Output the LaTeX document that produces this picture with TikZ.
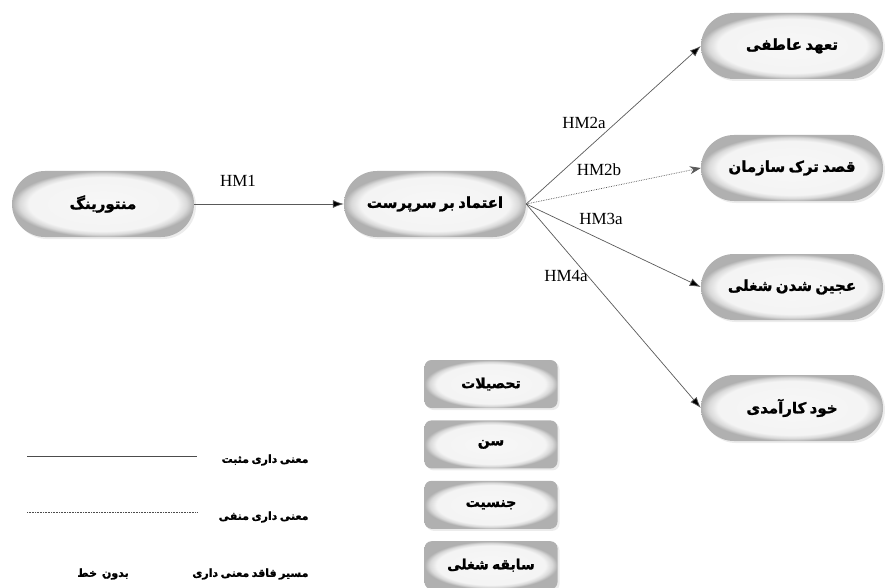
\documentclass[tikz,border=0pt]{standalone}
\usepackage{fontspec}
\setmainfont{Liberation Serif}
\newfontfamily\farsi[Script=Arabic, WordSpace=0.65,
  BoldFeatures={FakeBold=1.5}]{DejaVu Sans}
\TeXXeTstate=1
\usetikzlibrary{arrows.meta,positioning,shadows}
\pgfdeclareradialshading{rimshade}{\pgfpoint{0bp}{0bp}}{%
  color(0bp)=(gray!6); color(20.5bp)=(gray!9); color(23bp)=(gray!30);
  color(25bp)=(gray!62); color(50bp)=(gray!62)}
\newcommand{\rtl}[1]{\beginR #1\endR}

\tikzset{
  pill/.style={rectangle, rounded corners=33pt, minimum width=182pt,
    minimum height=66pt, shading=rimshade,
    drop shadow={opacity=0.15, shadow xshift=2pt, shadow yshift=-2pt},
    font=\farsi\bfseries\fontsize{15}{18}\selectfont},
  ctrlbox/.style={rectangle, rounded corners=7pt, minimum width=133pt,
    minimum height=48pt, shading=rimshade,
    drop shadow={opacity=0.15, shadow xshift=2pt, shadow yshift=-2pt},
    font=\farsi\bfseries\fontsize{14}{17}\selectfont},
  hmlabel/.style={font=\fontsize{17}{19}\selectfont},
  legendtext/.style={font=\farsi\bfseries\fontsize{11}{13}\selectfont},
  link/.style={draw=black!65, line width=0.7pt,
    -{Latex[length=11pt,width=8pt,fill=black]}},
}

\begin{document}
\begin{tikzpicture}[x=1pt,y=-1pt]
  \useasboundingbox (0,0) rectangle (885,588);

  % main model
  \node[pill] (mentor) at (103,204) {\rtl{منتورینگ}};
  \node[pill] (trust)  at (435,204) {\rtl{اعتماد بر سرپرست}};
  \node[pill] (commit)   at (792,46)  {\rtl{تعهد عاطفی}};
  \node[pill] (quit)     at (792,168) {\rtl{قصد ترک سازمان}};
  \node[pill] (engage)   at (792,287) {\rtl{عجین شدن شغلی}};
  \node[pill] (efficacy) at (792,408) {\rtl{خود کارآمدی}};

  % control variables
  \node[ctrlbox] (edu) at (491,384) {\rtl{تحصیلات}};
  \node[ctrlbox, below=12pt of edu]    (age)    {\rtl{سن}};
  \node[ctrlbox, below=12pt of age]    (gender) {\rtl{جنسیت}};
  \node[ctrlbox, below=12pt of gender] (tenure) {\rtl{سابقه شغلی}};

  % paths
  \draw[link] (mentor) -- (trust);
  \draw[link] (trust.east) -- (commit.west);
  \draw[link, densely dotted, -{Stealth[length=11pt,width=8pt]}]
    (trust.east) -- (quit.west);
  \draw[link] (trust.east) -- (engage.west);
  \draw[link] (trust.east) -- (efficacy.west);

  \node[hmlabel] (hm1)  at (238,181) {HM1};
  \node[hmlabel] (hm2a) at (584,123) {HM2a};
  \node[hmlabel] (hm2b) at (599,170) {HM2b};
  \node[hmlabel] (hm3a) at (601,219) {HM3a};
  \node[hmlabel] (hm4a) at (566,276) {HM4a};

  % legend
  \coordinate (solidL) at (27,456);
  \coordinate (solidR) at (197,456);
  \coordinate (dotL) at (27,512);
  \coordinate (dotR) at (197,512);
  \draw[black!70, line width=0.8pt] (solidL) -- (solidR);
  \draw[black!70, line width=0.6pt, densely dotted] (dotL) -- (dotR);
  \node[legendtext, anchor=east] (pos)  at (312,460) {\rtl{معنی داری مثبت}};
  \node[legendtext, anchor=east] (neg)  at (312,517) {\rtl{معنی داری منفی}};
  \node[legendtext, anchor=east] (none) at (312,574) {\rtl{مسیر فاقد معنی داری}};
  \node[legendtext] (noline) at (103,574) {\rtl{بدون\ \ خط}};
\end{tikzpicture}
\end{document}
